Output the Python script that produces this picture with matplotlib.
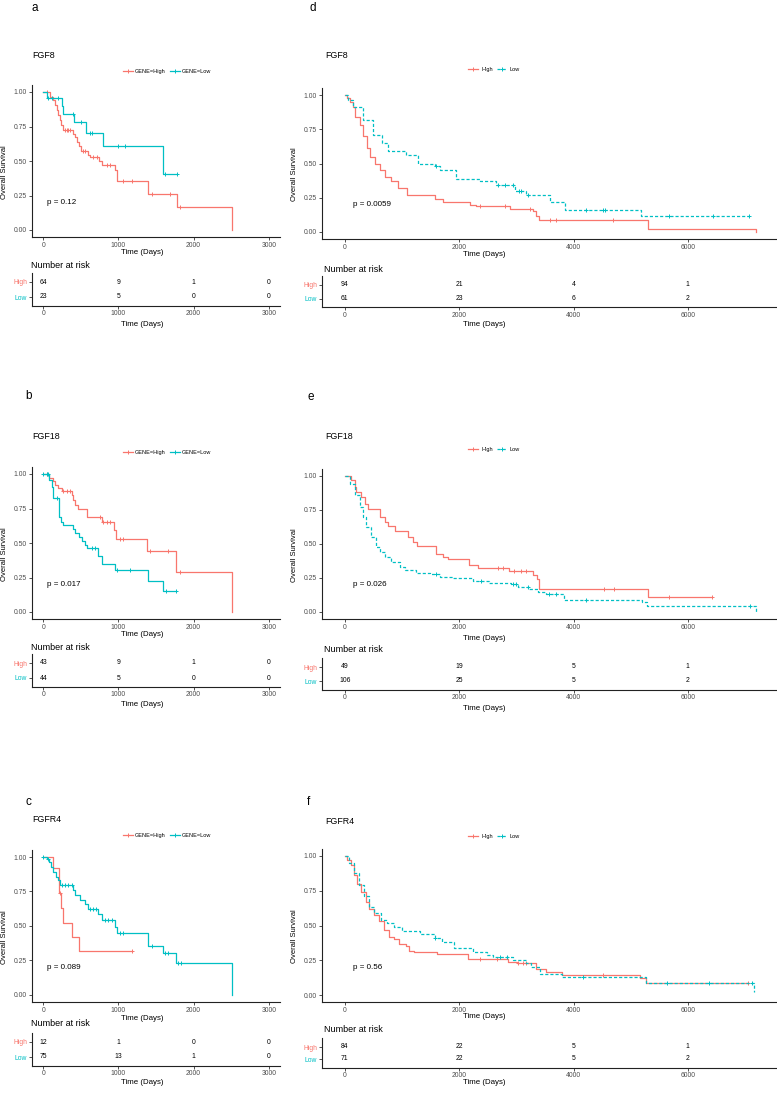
import matplotlib
matplotlib.use("Agg")
import matplotlib.pyplot as plt
from matplotlib.lines import Line2D
import numpy as np

plt.rcParams["font.family"] = ["Liberation Sans", "DejaVu Sans"]

RED = "#F8766D"
TEAL = "#00BFC4"
W, H = 777, 1104

# ---------------- data ----------------
# a: FGF8 (3000 d scale)
a_hi_t = [0, 89, 133, 155, 178, 200, 222, 235, 257, 391, 422, 453, 479, 497, 599, 621, 746, 777, 954, 976, 1389, 1775, 2517]
a_hi_s = [1.0, 0.964, 0.94, 0.904, 0.867, 0.831, 0.795, 0.759, 0.728, 0.699, 0.675, 0.639, 0.607, 0.573, 0.542, 0.53, 0.501, 0.47, 0.434, 0.357, 0.258, 0.169, 0.0]
a_hi_c = [44, 288, 311, 333, 355, 533, 555, 666, 710, 843, 888, 1065, 1176, 1442, 1687, 1820]
a_lo_t = [0, 44, 244, 266, 408, 564, 799, 1598]
a_lo_s = [1.0, 0.96, 0.896, 0.84, 0.78, 0.706, 0.607, 0.405]
a_lo_c = [67, 111, 200, 400, 502, 622, 653, 999, 1087, 1620, 1775]
a_risk_hi = [64, 9, 1, 0]
a_risk_lo = [23, 5, 0, 0]

# b: FGF18
b_hi_t = [0, 75, 133, 155, 200, 244, 377, 400, 422, 466, 586, 777, 941, 968, 1385, 1762, 2517]
b_hi_s = [1.0, 0.969, 0.952, 0.92, 0.901, 0.877, 0.848, 0.812, 0.776, 0.745, 0.692, 0.655, 0.595, 0.53, 0.439, 0.289, 0.0]
b_hi_c = [44, 266, 311, 355, 755, 799, 843, 888, 1021, 1065, 1420, 1664, 1820]
b_lo_t = [0, 80, 111, 133, 213, 235, 257, 391, 422, 479, 510, 555, 586, 723, 777, 954, 1389, 1589]
b_lo_s = [1.0, 0.957, 0.908, 0.824, 0.692, 0.655, 0.631, 0.6, 0.571, 0.547, 0.518, 0.487, 0.463, 0.407, 0.349, 0.306, 0.222, 0.149]
b_lo_c = [0, 44, 67, 186, 644, 688, 976, 1154, 1629, 1762]
b_risk_hi = [43, 9, 1, 0]
b_risk_lo = [44, 5, 0, 0]

# c: FGFR4
c_hi_t = [0, 133, 213, 235, 257, 377, 475]
c_hi_s = [1.0, 0.922, 0.741, 0.63, 0.521, 0.419, 0.317]
c_hi_c = [222, 1176]
c_lo_t = [0, 44, 80, 102, 133, 169, 200, 222, 400, 422, 488, 555, 599, 732, 777, 954, 976, 1398, 1589, 1766, 2517]
c_lo_s = [1.0, 0.988, 0.964, 0.927, 0.891, 0.855, 0.83, 0.799, 0.758, 0.722, 0.685, 0.661, 0.625, 0.588, 0.545, 0.496, 0.448, 0.358, 0.303, 0.232, 0.0]
c_lo_c = [0, 67, 244, 288, 333, 377, 622, 666, 701, 821, 865, 910, 1021, 1065, 1443, 1620, 1664, 1798, 1829]
c_risk_hi = [12, 1, 0, 0]
c_risk_lo = [75, 13, 1, 0]

# d: FGF8 (7000 d scale)
d_hi_t = [0, 40, 90, 146, 175, 262, 320, 379, 437, 524, 611, 699, 815, 932, 1089, 1572, 1718, 2184, 2300, 2883, 3290, 3349, 3395, 5300, 7193]
d_hi_s = [1.0, 0.98, 0.95, 0.915, 0.84, 0.78, 0.70, 0.61, 0.55, 0.50, 0.45, 0.40, 0.37, 0.32, 0.27, 0.24, 0.22, 0.20, 0.19, 0.17, 0.15, 0.12, 0.09, 0.024, 0.0]
d_hi_c = [2370, 2796, 3232, 3582, 3698, 4688]
d_lo_t = [0, 50, 146, 320, 495, 641, 757, 1077, 1281, 1572, 1660, 1951, 2359, 2650, 2970, 3174, 3582, 3844, 5183]
d_lo_s = [1.0, 0.96, 0.915, 0.82, 0.71, 0.65, 0.59, 0.56, 0.50, 0.48, 0.45, 0.39, 0.37, 0.34, 0.30, 0.27, 0.22, 0.16, 0.12]
d_lo_c = [1602, 2679, 2796, 2941, 3040, 3087, 3203, 4222, 4514, 4543, 5667, 6436, 7076]
d_risk_hi = [94, 21, 4, 1]
d_risk_lo = [61, 23, 6, 2]

# e: FGF18
e_hi_t = [0, 116, 174, 203, 291, 349, 407, 610, 698, 756, 872, 1105, 1192, 1262, 1599, 1715, 1802, 2169, 2326, 2878, 3297, 3355, 3401, 5302]
e_hi_s = [1.0, 0.968, 0.919, 0.883, 0.846, 0.797, 0.756, 0.699, 0.663, 0.631, 0.594, 0.553, 0.516, 0.484, 0.43, 0.406, 0.389, 0.345, 0.323, 0.301, 0.271, 0.24, 0.166, 0.112]
e_hi_c = [2680, 2770, 2960, 3080, 3170, 4535, 4710, 5670, 6424]
e_lo_t = [0, 87, 174, 262, 320, 378, 465, 552, 610, 698, 814, 959, 1047, 1250, 1483, 1657, 1890, 2238, 2529, 2907, 3023, 3227, 3372, 3517, 3837, 5203, 5291, 7192]
e_lo_s = [1.0, 0.944, 0.858, 0.773, 0.699, 0.626, 0.553, 0.479, 0.443, 0.406, 0.369, 0.333, 0.308, 0.289, 0.279, 0.26, 0.25, 0.23, 0.215, 0.205, 0.186, 0.17, 0.15, 0.13, 0.09, 0.07, 0.046, 0.0]
e_lo_c = [1600, 2384, 2936, 2995, 3198, 3576, 3692, 4215, 7093]
e_risk_hi = [49, 19, 5, 1]
e_risk_lo = [106, 25, 5, 2]

# f: FGFR4
f_hi_t = [0, 46, 104, 162, 220, 278, 365, 423, 510, 597, 684, 771, 858, 945, 1061, 1119, 1206, 1612, 2162, 2858, 3003, 3351, 3525, 3803, 5159, 5264]
f_hi_s = [1.0, 0.97, 0.935, 0.86, 0.80, 0.74, 0.67, 0.62, 0.575, 0.53, 0.47, 0.42, 0.40, 0.37, 0.35, 0.32, 0.31, 0.295, 0.257, 0.24, 0.228, 0.19, 0.168, 0.144, 0.12, 0.084]
f_hi_c = [2365, 2655, 3032, 3119, 3177, 4510, 7061]
f_lo_t = [0, 75, 162, 249, 336, 423, 510, 626, 742, 858, 1003, 1322, 1583, 1699, 1901, 2249, 2481, 2597, 2945, 3177, 3264, 3409, 3803, 5264, 7159]
f_lo_s = [1.0, 0.95, 0.875, 0.79, 0.71, 0.635, 0.59, 0.54, 0.515, 0.49, 0.46, 0.436, 0.41, 0.38, 0.336, 0.31, 0.29, 0.276, 0.25, 0.228, 0.204, 0.15, 0.127, 0.089, 0.02]
f_lo_c = [1583, 2713, 2829, 4162, 5641, 6365, 7119]
f_risk_hi = [84, 22, 5, 1]
f_risk_lo = [71, 22, 5, 2]

p_values = ["p = 0.12", "p = 0.017", "p = 0.089", "p = 0.0059", "p = 0.026", "p = 0.56"]
genes = ["FGF8", "FGF18", "FGFR4"]

# ---------------- layout ----------------
COLS = {
    "L": dict(x0=32, x1=280, xlim=(-150, 3150), xticks=[0, 1000, 2000, 3000],
              leg=[(123, 135), (170, 182)], labels=["GENE=High", "GENE=Low"], lo_ls="-",
              title_x=32, ylab_x=5, xlab_x=142, p_x=50),
    "R": dict(x0=322, x1=777, xlim=(-400, 7560), xticks=[0, 2000, 4000, 6000],
              leg=[(468, 481), (497, 509)], labels=["High", "Low"], lo_ls=(0, (2.5, 1.6)),
              title_x=325, ylab_x=295, xlab_x=484, p_x=140),
}

fig = plt.figure(figsize=(W / 100, H / 100), dpi=100)


def box(x0, y0, x1, y1):
    return [x0 / W, 1 - y1 / H, (x1 - x0) / W, (y1 - y0) / H]


def ftext(x, y, s, **kw):
    fig.text(x / W, 1 - y / H, s, **kw)


def style(ax):
    for side in ("top", "right"):
        ax.spines[side].set_visible(False)
    for side in ("left", "bottom"):
        ax.spines[side].set_linewidth(0.8)
        ax.spines[side].set_color("#222222")
    ax.tick_params(length=2, width=0.6, labelsize=4.9, pad=1.5,
                   color="#333333", labelcolor="#4d4d4d")


def km(ax, t, s, cens, color, ls):
    end = max(t[-1], max(cens))
    ax.step(list(t) + [end], list(s) + [s[-1]], where="post",
            color=color, lw=0.9, ls=ls)
    idx = np.searchsorted(t, cens, side="right") - 1
    ax.plot(cens, np.asarray(s)[idx], ls="none", marker="+", ms=3.5,
            mew=0.7, color=color)


def legend(c, y):
    yf = 1 - y / H
    for (lx, tx), lab, colr, ls in zip(c["leg"], c["labels"], [RED, TEAL], ["-", c["lo_ls"]]):
        fig.add_artist(Line2D([lx / W, (lx + 10) / W], [yf, yf], transform=fig.transFigure,
                              color=colr, lw=0.9, ls=ls))
        fig.add_artist(Line2D([(lx + 5) / W], [yf], transform=fig.transFigure, ls="none",
                              marker="+", ms=3.5, mew=0.7, color=colr))
        fig.text(tx / W, yf, lab, fontsize=4.0, ha="left", va="center_baseline")


def panel(col, lab, lab_x, lab_y, title, title_y, leg_y, y_one, y_zero,
          xlab_y, nar_y, row_hi, row_lo, xlab2_y, pval,
          hi, lo, risk_hi, risk_lo):
    c = COLS[col]
    span = y_zero - y_one
    ax = fig.add_axes(box(c["x0"], y_one - 0.05 * span, c["x1"], y_zero + 0.05 * span))
    style(ax)
    km(ax, *hi, RED, "-")
    km(ax, *lo, TEAL, c["lo_ls"])
    ax.set_xlim(*c["xlim"])
    ax.set_ylim(-0.05, 1.05)
    ax.set_xticks(c["xticks"])
    ax.set_yticks([0, 0.25, 0.5, 0.75, 1.0])
    ax.set_yticklabels(["0.00", "0.25", "0.50", "0.75", "1.00"])
    ax.text(c["p_x"], 0.2, pval, fontsize=5.8, ha="left", va="center")

    ftext(lab_x, lab_y, lab, fontsize=8.5, ha="left", va="center")
    ftext(c["title_x"], title_y, title, fontsize=6.4, ha="left", va="center")
    ftext(c["ylab_x"], (y_one + y_zero) / 2 + 11, "Overall Survival", fontsize=5.5,
          rotation=90, ha="center", va="center")
    ftext(c["xlab_x"], xlab_y, "Time (Days)", fontsize=5.7, ha="center", va="center")
    ftext(c["title_x"] - 1, nar_y, "Number at risk", fontsize=6.5, ha="left", va="center")
    ftext(c["xlab_x"], xlab2_y, "Time (Days)", fontsize=5.7, ha="center", va="center")
    legend(c, leg_y)

    # risk table
    sp = row_lo - row_hi
    rax = fig.add_axes(box(c["x0"], row_hi - 9, c["x1"], row_lo + 8.5))
    style(rax)
    rax.set_xlim(*c["xlim"])
    rax.set_ylim(-8.5 / sp, 1 + 9 / sp)
    rax.set_xticks(c["xticks"])
    rax.set_yticks([1, 0])
    rax.set_yticklabels(["High", "Low"])
    for tl, colr in zip(rax.get_yticklabels(), [RED, TEAL]):
        tl.set_color(colr)
    for xv, nh, nl in zip(c["xticks"], risk_hi, risk_lo):
        rax.text(xv, 1, str(nh), fontsize=4.9, ha="center", va="center")
        rax.text(xv, 0, str(nl), fontsize=4.9, ha="center", va="center")


panel("L", "a", 32, 8, genes[0], 55, 71, 92, 230, 252, 265, 282, 297, 324, p_values[0],
      (a_hi_t, a_hi_s, a_hi_c), (a_lo_t, a_lo_s, a_lo_c), a_risk_hi, a_risk_lo)
panel("L", "b", 25, 396, genes[1], 437, 452, 474, 612, 634, 647, 663, 678, 704, p_values[1],
      (b_hi_t, b_hi_s, b_hi_c), (b_lo_t, b_lo_s, b_lo_c), b_risk_hi, b_risk_lo)
panel("L", "c", 25, 802, genes[2], 819, 835, 857, 995, 1019, 1024, 1042, 1057, 1083, p_values[2],
      (c_hi_t, c_hi_s, c_hi_c), (c_lo_t, c_lo_s, c_lo_c), c_risk_hi, c_risk_lo)
panel("R", "d", 310, 8, genes[0], 55, 69, 95, 232, 254, 269, 285, 299, 324, p_values[3],
      (d_hi_t, d_hi_s, d_hi_c), (d_lo_t, d_lo_s, d_lo_c), d_risk_hi, d_risk_lo)
panel("R", "e", 307, 397, genes[1], 437, 449, 476, 612, 638, 650, 667, 681, 708, p_values[4],
      (e_hi_t, e_hi_s, e_hi_c), (e_lo_t, e_lo_s, e_lo_c), e_risk_hi, e_risk_lo)
panel("R", "f", 307, 802, genes[2], 821, 836, 856, 995, 1017, 1030, 1047, 1059, 1082, p_values[5],
      (f_hi_t, f_hi_s, f_hi_c), (f_lo_t, f_lo_s, f_lo_c), f_risk_hi, f_risk_lo)

fig.savefig("out.png", dpi=100)
plt.close(fig)
